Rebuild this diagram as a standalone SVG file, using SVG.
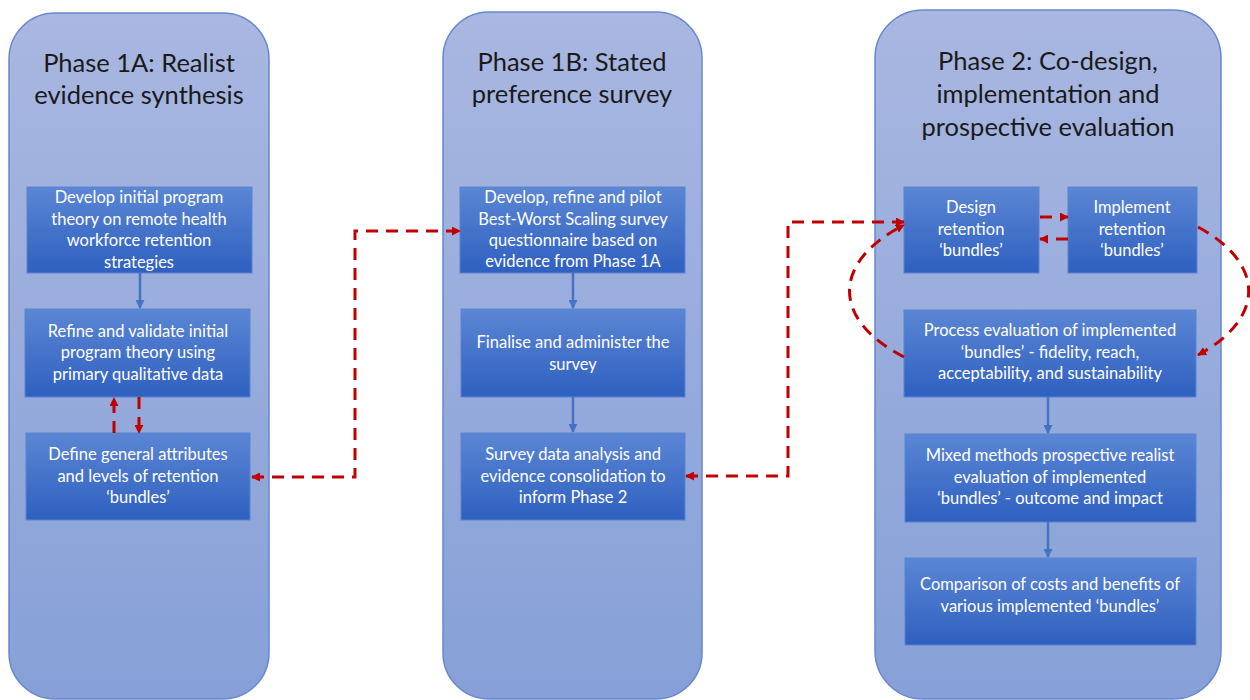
<svg xmlns="http://www.w3.org/2000/svg" width="1250" height="700" viewBox="0 0 1250 700">
  <defs>
    <linearGradient id="panelFill" x1="0" y1="0" x2="0" y2="1">
      <stop offset="0" stop-color="#A9B7E1"/>
      <stop offset="1" stop-color="#86A0D7"/>
    </linearGradient>
    <linearGradient id="boxFill" x1="0" y1="0" x2="0" y2="1">
      <stop offset="0" stop-color="#5B86D4"/>
      <stop offset="1" stop-color="#2F60C0"/>
    </linearGradient>
    <marker id="redHead" viewBox="0 0 10 10" refX="9" refY="5" markerWidth="9" markerHeight="9" markerUnits="userSpaceOnUse" orient="auto-start-reverse">
      <path d="M0,0 L10,5 L0,10 z" fill="#C00000"/>
    </marker>
    <marker id="blueHead" viewBox="0 0 10 10" refX="9" refY="5" markerWidth="9" markerHeight="9" markerUnits="userSpaceOnUse" orient="auto">
      <path d="M0,0 L10,5 L0,10 z" fill="#4472C4"/>
    </marker>
  </defs>
  <style>
    .panel { fill: url(#panelFill); stroke: #6688CF; stroke-width: 1.5; }
    .box { fill: url(#boxFill); stroke: #5A84D0; stroke-width: 1; }
    .title { font-family: Lato, "Liberation Sans", sans-serif; font-size: 25.5px; fill: #1A1A1A; text-anchor: middle; }
    .label { font-family: Lato, "Liberation Sans", sans-serif; font-size: 16.5px; fill: #FFFFFF; text-anchor: middle; }
    .flow { fill: none; stroke: #4472C4; stroke-width: 2.5; marker-end: url(#blueHead); }
    .link { fill: none; stroke: #C00000; stroke-width: 3; stroke-dasharray: 12 8; }
  </style>

  <!-- phase panels -->
  <g id="phase1a">
    <rect class="panel" x="9" y="13" width="260" height="686" rx="46" ry="46"/>
    <text class="title" x="139" y="72">Phase 1A: Realist</text>
    <text class="title" x="139" y="104">evidence synthesis</text>
  </g>
  <g id="phase1b">
    <rect class="panel" x="443" y="12" width="259" height="687" rx="46" ry="46"/>
    <text class="title" x="572" y="71">Phase 1B: Stated</text>
    <text class="title" x="572" y="103">preference survey</text>
  </g>
  <g id="phase2">
    <rect class="panel" x="875" y="10" width="346" height="689" rx="48" ry="48"/>
    <text class="title" x="1048" y="70">Phase 2: Co-design,</text>
    <text class="title" x="1048" y="103">implementation and</text>
    <text class="title" x="1048" y="136">prospective evaluation</text>
  </g>

  <!-- Phase 1A steps -->
  <g id="p1a-develop">
    <rect class="box" x="27" y="187" width="225" height="86"/>
    <text class="label" x="139" y="203">Develop initial program</text>
    <text class="label" x="139" y="225">theory on remote health</text>
    <text class="label" x="139" y="246">workforce retention</text>
    <text class="label" x="139" y="268">strategies</text>
  </g>
  <g id="p1a-refine">
    <rect class="box" x="25" y="309" width="225" height="88"/>
    <text class="label" x="138" y="337">Refine and validate initial</text>
    <text class="label" x="138" y="358">program theory using</text>
    <text class="label" x="138" y="380">primary qualitative data</text>
  </g>
  <g id="p1a-define">
    <rect class="box" x="26" y="433" width="224" height="87"/>
    <text class="label" x="138" y="460">Define general attributes</text>
    <text class="label" x="138" y="482">and levels of retention</text>
    <text class="label" x="138" y="503">‘bundles’</text>
  </g>

  <!-- Phase 1B steps -->
  <g id="p1b-develop">
    <rect class="box" x="460" y="187" width="225" height="86"/>
    <text class="label" x="573" y="203">Develop, refine and pilot</text>
    <text class="label" x="573" y="225">Best-Worst Scaling survey</text>
    <text class="label" x="573" y="246">questionnaire based on</text>
    <text class="label" x="573" y="267">evidence from Phase 1A</text>
  </g>
  <g id="p1b-finalise">
    <rect class="box" x="461" y="309" width="224" height="88"/>
    <text class="label" x="573" y="348">Finalise and administer the</text>
    <text class="label" x="573" y="370">survey</text>
  </g>
  <g id="p1b-analysis">
    <rect class="box" x="461" y="433" width="224" height="87"/>
    <text class="label" x="573" y="460">Survey data analysis and</text>
    <text class="label" x="573" y="482">evidence consolidation to</text>
    <text class="label" x="573" y="503">inform Phase 2</text>
  </g>

  <!-- Phase 2 steps -->
  <g id="p2-design">
    <rect class="box" x="904" y="187" width="135" height="86"/>
    <text class="label" x="971" y="213">Design</text>
    <text class="label" x="971" y="235">retention</text>
    <text class="label" x="971" y="256">‘bundles’</text>
  </g>
  <g id="p2-implement">
    <rect class="box" x="1068" y="187" width="129" height="86"/>
    <text class="label" x="1132" y="213">Implement</text>
    <text class="label" x="1132" y="235">retention</text>
    <text class="label" x="1132" y="256">‘bundles’</text>
  </g>
  <g id="p2-process">
    <rect class="box" x="904" y="310" width="292" height="87"/>
    <text class="label" x="1050" y="336">Process evaluation of implemented</text>
    <text class="label" x="1050" y="358">‘bundles’ - fidelity, reach,</text>
    <text class="label" x="1050" y="379">acceptability, and sustainability</text>
  </g>
  <g id="p2-mixed">
    <rect class="box" x="905" y="434" width="291" height="88"/>
    <text class="label" x="1050" y="461">Mixed methods prospective realist</text>
    <text class="label" x="1050" y="483">evaluation of implemented</text>
    <text class="label" x="1050" y="504">‘bundles’ - outcome and impact</text>
  </g>
  <g id="p2-compare">
    <rect class="box" x="905" y="558" width="291" height="87"/>
    <text class="label" x="1050" y="590">Comparison of costs and benefits of</text>
    <text class="label" x="1050" y="612">various implemented ‘bundles’</text>
  </g>

  <!-- connectors -->
  <g id="connectors">
    <!-- sequential steps -->
    <line class="flow" x1="140" y1="273" x2="140" y2="308"/>
    <line class="flow" x1="573" y1="273" x2="573" y2="308"/>
    <line class="flow" x1="573" y1="397" x2="573" y2="432"/>
    <line class="flow" x1="1048" y1="397" x2="1048" y2="433"/>
    <line class="flow" x1="1048" y1="522" x2="1048" y2="557"/>

    <!-- feedback between refine and define -->
    <line class="link" x1="114" y1="433" x2="114" y2="398" marker-end="url(#redHead)"/>
    <line class="link" x1="139" y1="397" x2="139" y2="433" marker-end="url(#redHead)"/>

    <!-- links between phases -->
    <path class="link" d="M252 477 H355 V231 H460" marker-start="url(#redHead)" marker-end="url(#redHead)"/>
    <path class="link" d="M686 476 H788 V222 H904" marker-start="url(#redHead)" marker-end="url(#redHead)"/>

    <!-- design / implement exchange -->
    <line class="link" x1="1040" y1="217" x2="1068" y2="217" stroke-dasharray="10 6" marker-end="url(#redHead)"/>
    <line class="link" x1="1068" y1="239" x2="1040" y2="239" stroke-dasharray="10 6" marker-end="url(#redHead)"/>

    <!-- evaluation loop -->
    <path class="link" d="M1198 227 A199 96 0 0 1 1198 355" marker-end="url(#redHead)"/>
    <path class="link" d="M904 357 A199 96 0 0 1 904 225" marker-end="url(#redHead)"/>
  </g>
</svg>
